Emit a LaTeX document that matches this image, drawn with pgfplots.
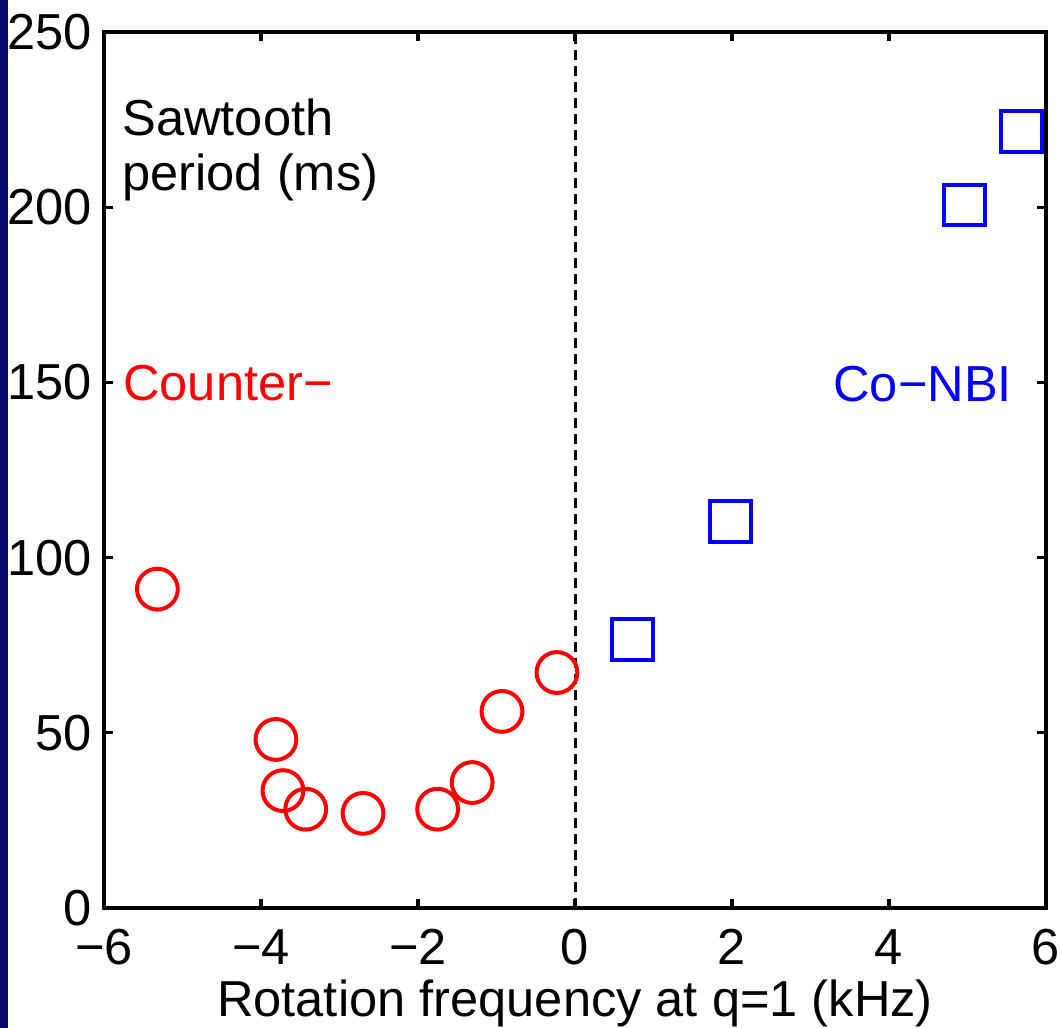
\documentclass[border=0pt]{standalone}
\usepackage{pgfplots}
\pgfplotsset{compat=1.18}
\usepackage{fontspec}
\setmainfont{Liberation Sans}
\definecolor{navystrip}{RGB}{8,8,110}
\begin{document}
\fontsize{25.3}{30}\selectfont
\begin{tikzpicture}
\path[use as bounding box] (0,0) rectangle (530.5pt,514pt);
\fill[navystrip] (0,0) rectangle (4pt,514pt);
\begin{axis}[
  scale only axis,
  width=471pt, height=438pt,
  at={(52pt,60pt)}, anchor=south west,
  xmin=-6, xmax=6, ymin=0, ymax=250,
  xtick={-6,-4,-2,0,2,4,6},
  xticklabels={−6,−4,−2,0,2,4,6},
  ytick={0,50,100,150,200,250},
  yticklabels={0,50,100,150,200,250},
  tick align=inside,
  major tick length=4.5pt,
  axis line style={line width=1.6pt},
  every tick/.style={black, line width=1.6pt},
  xticklabel style={font=\fontsize{25.3}{30}\selectfont, inner sep=0pt, anchor=north, yshift=-10.5pt},
  yticklabel style={font=\fontsize{25.3}{30}\selectfont, inner sep=0pt, anchor=east, xshift=-6pt},
  xlabel={Rotation frequency at q=1 (kHz)},
  xlabel style={font=\fontsize{25.3}{30}\selectfont, inner sep=0pt, anchor=base, at={(axis description cs:0.5,0)}, yshift=-54.5pt},
  clip=false,
]
\addplot[black, line width=1.5pt, dash pattern=on 5pt off 3pt] coordinates {(0,0) (0,250)};
\addplot[only marks, mark=o, mark size=10.2pt, red, mark options={line width=2pt}] coordinates {
  (-5.32,91.0)
  (-3.81,48.1)
  (-3.72,33.5)
  (-3.43,28.2)
  (-2.70,27.0)
  (-1.75,28.2)
  (-1.31,35.8)
  (-0.93,56.1)
  (-0.23,67.2)
};
\addplot[only marks, mark=square, mark size=10.2pt, blue, mark options={line width=2pt}] coordinates {
  (0.73,76.7)
  (1.98,110.3)
  (4.96,200.6)
  (5.69,221.7)
};
\node[anchor=base west, inner sep=0pt, black] at (axis cs:-5.77,220.6) {Sawtooth};
\node[anchor=base west, inner sep=0pt, black] at (axis cs:-5.77,204.9) {period (ms)};
\node[anchor=base west, inner sep=0pt, red] at (axis cs:-5.76,144.7) {Counter−};
\node[anchor=base west, inner sep=0pt, blue] at (axis cs:3.287,144.5) {Co−NBI};
\end{axis}
\end{tikzpicture}
\end{document}
